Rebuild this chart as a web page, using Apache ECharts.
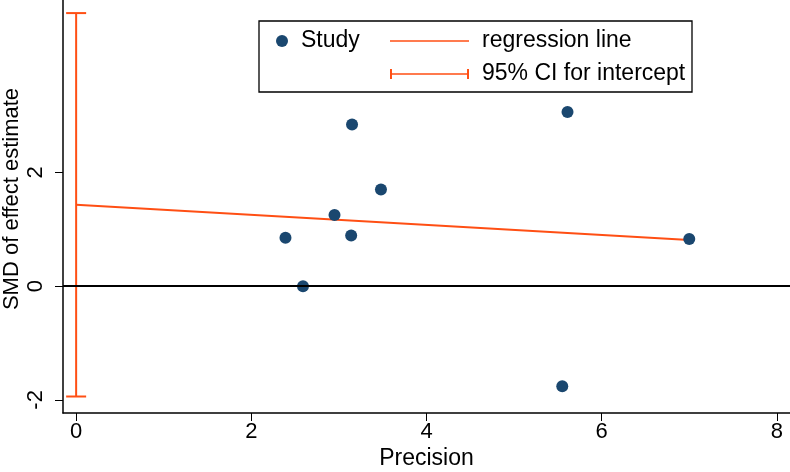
<!DOCTYPE html>
<html>
<head>
<meta charset="utf-8">
<script src="https://cdn.jsdelivr.net/npm/echarts@6/dist/echarts.min.js"></script>
<style>
  html, body { margin: 0; padding: 0; background: #fff; }
  #chart { width: 790px; height: 472px; }
</style>
</head>
<body>
<div id="chart"></div>
<script>
// studies: precision (x) and SMD (y)
const precision = [3.15, 5.61, 3.48, 2.95, 2.39, 3.14, 2.59, 5.55, 7.00];
const smd = [2.84, 3.06, 1.70, 1.25, 0.85, 0.89, 0.00, -1.76, 0.83];

// regression line ends (x, y)
const regX = [0, 7];
const regY = [1.43, 0.81];

// 95% CI for intercept
const ciLow = -1.94;
const ciHigh = 4.80;

const xTicks = [0, 2, 4, 6, 8];
const yTicks = [-2, 0, 2];

const navy = '#1a476f';
const orange = '#ff4f14';
const font = 'Liberation Sans, Arial, sans-serif';

const initChart = () => {
    const chart = echarts.init(document.getElementById('chart'));

    const studyData = precision.map((p, i) => [p, smd[i]]);
    const regData = regX.map((x, i) => [x, regY[i]]);

    const option = {
        animation: false,
        textStyle: { fontFamily: font },
        grid: { left: 63, right: 0, top: 0, bottom: 59, containLabel: false, outerBoundsMode: 'none' },
        xAxis: {
            type: 'value',
            min: -0.15,
            max: 8.15,
            name: 'Precision',
            nameLocation: 'middle',
            nameGap: 34,
            nameMoveOverlap: false,
            nameTextStyle: { fontSize: 23, color: '#000', fontFamily: font },
            axisLine: { show: true, onZero: false, lineStyle: { color: '#000', width: 1.5 } },
            axisTick: { show: true, length: 8, lineStyle: { color: '#000' }, customValues: xTicks },
            axisLabel: { fontSize: 22, color: '#000', margin: 8, customValues: xTicks },
            splitLine: { show: false }
        },
        yAxis: {
            type: 'value',
            min: -2.23,
            max: 5.03,
            name: 'SMD of effect estimate',
            nameLocation: 'middle',
            nameGap: 40,
            nameMoveOverlap: false,
            nameTextStyle: { fontSize: 22, color: '#000', fontFamily: font, padding: [0, 0, 0, 15] },
            axisLine: { show: true, onZero: false, lineStyle: { color: '#000', width: 1.5 } },
            axisTick: { show: true, length: 8, lineStyle: { color: '#000' }, customValues: yTicks },
            axisLabel: { fontSize: 22, color: '#000', margin: 16, rotate: 90, customValues: yTicks },
            splitLine: { show: false }
        },
        legend: [
            {
                left: 276,
                top: 29,
                padding: 0,
                itemWidth: 12,
                itemHeight: 12,
                textStyle: { fontSize: 23, color: '#000', lineHeight: 24, padding: [0, 0, 0, 8] },
                data: [{ name: 'Study', icon: 'circle' }]
            },
            {
                left: 390,
                top: 29,
                padding: 0,
                orient: 'vertical',
                itemWidth: 79,
                itemHeight: 10,
                itemGap: 9,
                textStyle: { fontSize: 23, color: '#000', lineHeight: 24, padding: [0, 0, 0, 8] },
                data: [
                    { name: 'regression line', icon: 'path://M0,0M80,10M0,4.2L80,4.2L80,5.8L0,5.8Z' },
                    { name: '95% CI for intercept', icon: 'path://M0,0L2,0L2,4.2L78,4.2L78,0L80,0L80,10L78,10L78,5.8L2,5.8L2,10L0,10Z' }
                ]
            }
        ],
        graphic: [
            {
                type: 'rect',
                shape: { x: 259, y: 21, width: 433, height: 71 },
                style: { fill: 'none', stroke: '#000', lineWidth: 1.3 },
                z: 10
            }
        ],
        series: [
            {
                name: '95% CI for intercept',
                type: 'custom',
                itemStyle: { color: orange },
                data: [[0, ciLow, ciHigh]],
                renderItem: (params, api) => {
                    const top = api.coord([api.value(0), api.value(2)]);
                    const bot = api.coord([api.value(0), api.value(1)]);
                    const st = { stroke: orange, lineWidth: 2 };
                    return {
                        type: 'group',
                        children: [
                            { type: 'line', shape: { x1: top[0], y1: top[1], x2: bot[0], y2: bot[1] }, style: st },
                            { type: 'line', shape: { x1: top[0] - 10, y1: top[1], x2: top[0] + 10, y2: top[1] }, style: st },
                            { type: 'line', shape: { x1: bot[0] - 10, y1: bot[1], x2: bot[0] + 10, y2: bot[1] }, style: st }
                        ]
                    };
                },
                z: 2
            },
            {
                name: 'regression line',
                type: 'line',
                data: regData,
                symbol: 'none',
                itemStyle: { color: orange },
                lineStyle: { color: orange, width: 2 },
                z: 3
            },
            {
                name: 'Study',
                type: 'scatter',
                data: studyData,
                symbolSize: 12,
                itemStyle: { color: navy, opacity: 1 },
                markLine: {
                    silent: true,
                    symbol: 'none',
                    label: { show: false },
                    lineStyle: { color: '#000', width: 2, type: 'solid' },
                    data: [{ yAxis: 0 }]
                },
                z: 4
            }
        ]
    };

    chart.setOption(option);
};

window.addEventListener('load', () => {
    initChart();
});
</script>
</body>
</html>
